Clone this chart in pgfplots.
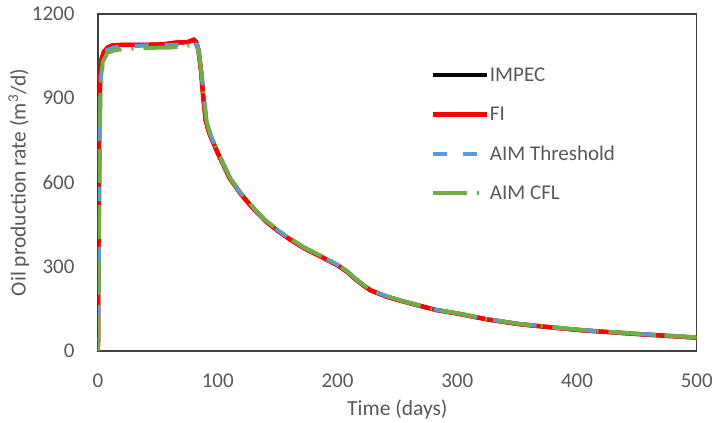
\documentclass[border=0pt]{standalone}
\usepackage{pgfplots}
\pgfplotsset{compat=1.18}
\usepackage{fontspec}
\setmainfont{Carlito}
\definecolor{txtgray}{RGB}{89,89,89}
\definecolor{framegray}{RGB}{64,64,64}
\definecolor{aimblue}{RGB}{91,155,213}
\definecolor{aimgreen}{RGB}{112,173,71}
\begin{document}
\begin{tikzpicture}
\begin{axis}[
  scale only axis,
  width=599pt, height=337pt,
  xmin=0, xmax=500, ymin=0, ymax=1200,
  xtick={0,100,...,500}, ytick={0,300,...,1200},
  major tick length=0pt,
  axis line style={framegray, line width=1.3pt},
  /pgf/number format/assume math mode=true,
  /pgf/number format/set thousands separator={},
  tick label style={font=\fontsize{21}{25}\selectfont, text=txtgray},
  xticklabel style={yshift=-19pt},
  yticklabel style={xshift=-20pt},
  xlabel={Time (days)},
  ylabel={Oil production rate (m\textsuperscript{3}/d)},
  label style={font=\fontsize{21.5}{25}\selectfont, text=txtgray},
  xlabel style={yshift=-6pt},
  ylabel style={yshift=-4pt},
  legend style={at={(axis cs:275,1020)}, anchor=north west, draw=none, fill=none,
    font=\fontsize{21}{25}\selectfont, text=txtgray, row sep=22pt,
    nodes={inner sep=1pt}},
  legend cell align=left,
  legend image code/.code={\draw[#1] (0pt,0pt) -- (54pt,0pt);},
]
\addplot[black, line width=4pt] coordinates {
(0,0) (1,850) (2,980) (3,1040) (5,1065) (8,1080) (12,1088) (20,1090) (40,1090) (55,1092) (65,1098) (75,1100) (80,1108) (82,1100) (84,1070) (86,1000) (88,900) (90,820) (93,775) (97,735) (100,705) (110,615) (120,555) (130,505) (140,462) (150,428) (160,398) (172,366) (186,336) (200,305) (208,282) (215,255) (222,232) (228,215) (241,193) (260,170) (283,145) (300,133) (325,112) (352,95) (380,83) (405,73) (450,60) (500,47)};
\addlegendentry{IMPEC}
\addplot[red, line width=4.5pt] coordinates {
(0,0) (1,850) (2,980) (3,1040) (5,1065) (8,1080) (12,1088) (20,1090) (40,1090) (55,1092) (65,1098) (75,1100) (80,1108) (82,1100) (84,1070) (86,1000) (88,900) (90,820) (93,775) (97,735) (100,705) (110,615) (120,555) (130,505) (140,462) (150,428) (160,398) (172,366) (186,336) (200,305) (208,282) (215,255) (222,232) (228,215) (241,193) (260,170) (283,145) (300,133) (325,112) (352,95) (380,83) (405,73) (450,60) (500,47)};
\addlegendentry{FI}
\addplot[aimblue, line width=4pt, dash pattern=on 14pt off 16pt] coordinates {
(0,0) (2,950) (4,1040) (8,1072) (15,1082) (40,1088) (70,1090) (80,1095) (83,1090) (85,1050) (87,970) (89,880) (91,811) (94,770) (97,740) (100,708) (111,609) (120,558) (130,508) (139,466) (150,430) (160,400) (172,368) (186,338) (200,307) (208,283) (215,257) (222,233) (228,217) (241,195) (260,171) (283,146) (300,134) (325,113) (352,96) (380,84) (405,74) (450,61) (500,48)};
\addlegendentry{AIM Threshold}
\addplot[aimgreen, line width=4pt, dash pattern=on 34pt off 10pt on 2pt off 10pt] coordinates {
(0,0) (2,900) (4,1030) (8,1062) (15,1072) (30,1077) (50,1080) (60,1080) (70,1085) (80,1090) (83,1086) (85,1040) (87,965) (89,880) (91,811) (94,772) (97,742) (100,710) (111,611) (120,560) (130,510) (139,468) (150,432) (160,402) (172,369) (186,339) (200,308) (208,284) (215,258) (222,234) (228,218) (241,195) (260,171) (283,146) (300,134) (325,113) (352,96) (380,84) (405,74) (450,61) (500,48)};
\addlegendentry{AIM CFL}
\end{axis}
\path (current axis.south west) ++(-98pt,-72pt) coordinate (bl);
\path (current axis.north east) ++(19pt,14pt) coordinate (tr);
\path (bl) rectangle (tr);
\end{tikzpicture}
\end{document}
